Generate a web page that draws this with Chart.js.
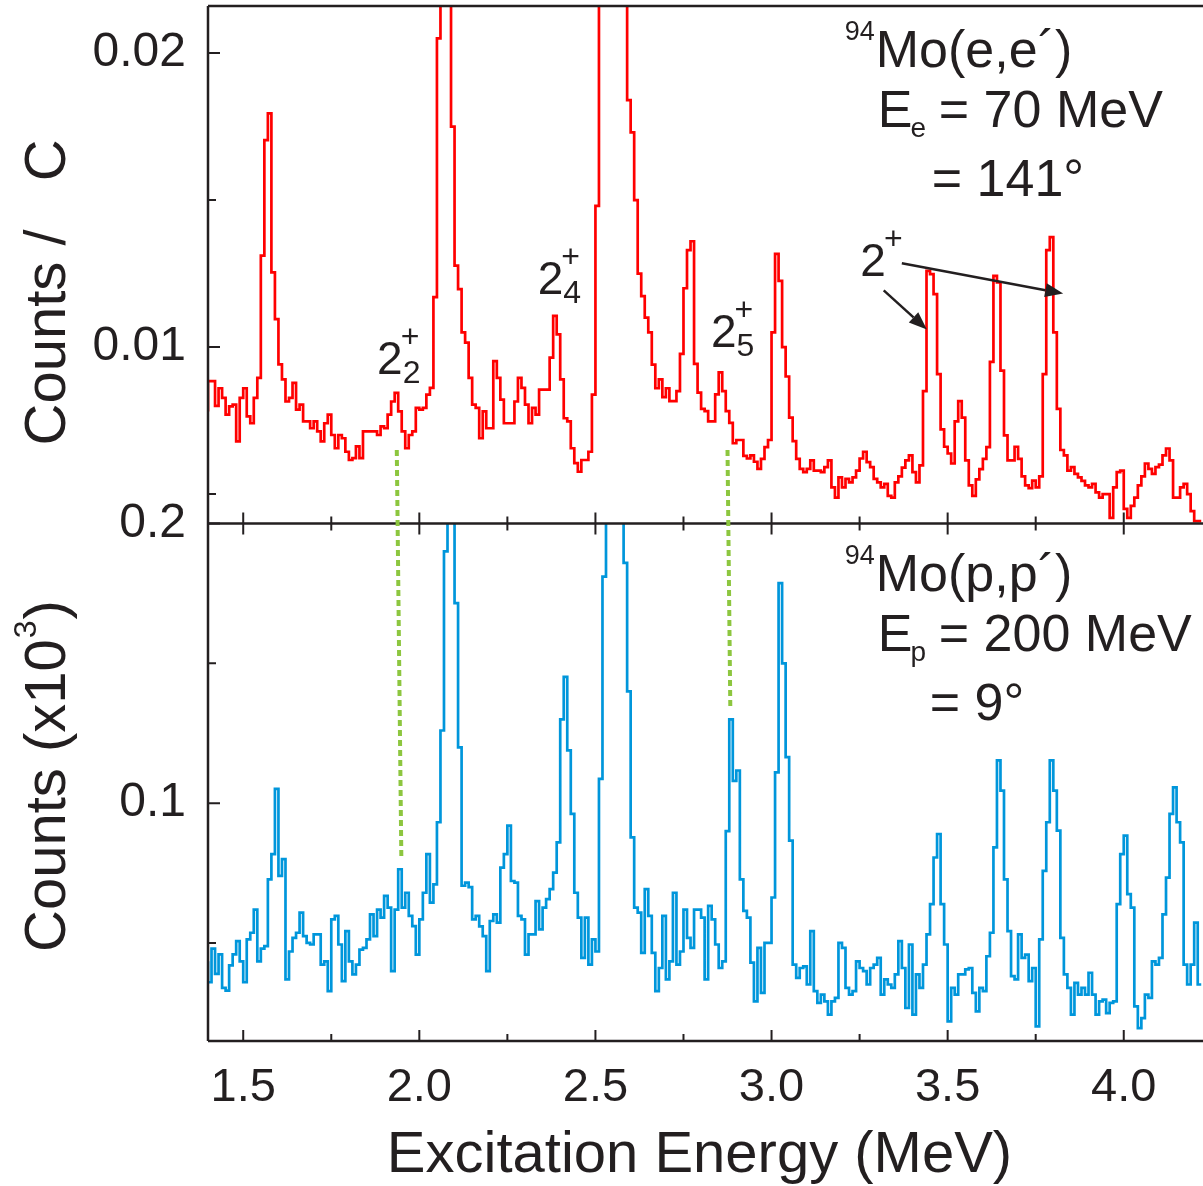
<!DOCTYPE html>
<html>
<head>
<meta charset="utf-8">
<title>94Mo (e,e') and (p,p') spectra</title>
<script src="https://cdn.jsdelivr.net/npm/chart.js@4.4.1/dist/chart.umd.min.js"></script>
<style>
  html, body { margin: 0; padding: 0; background: #fff; }
  #wrap { width: 1203px; height: 1186px; }
</style>
</head>
<body>
<div id="wrap"><canvas id="spectra" width="1203" height="1186"></canvas></div>
<script>
// energy binning shared by both spectra (MeV)
const binStart = 1.40;
const binWidth = 0.01;

// 94Mo(e,e') E0 = 70 MeV, theta = 141 deg : counts per charge, in units of 1e-3
const eeCounts = [
  7.81, 8.84, 8.84, 8.0, 8.6, 8.27, 7.7, 7.98, 8.04, 6.79,
  8.27, 8.6, 7.64, 7.41, 8.27, 8.95, 13.11, 17.04, 17.95, 12.54,
  10.95, 9.41, 8.9, 8.15, 8.27, 8.78, 7.87, 8.04, 7.47, 7.47,
  7.24, 7.47, 7.13, 6.79, 7.41, 7.7, 7.01, 6.56, 7.01, 6.9,
  6.44, 6.16, 6.22, 6.62, 6.22, 7.13, 7.13, 7.13, 7.13, 7.01,
  7.3, 7.24, 7.7, 8.15, 8.44, 7.81, 7.13, 6.56, 7.01, 7.13,
  7.93, 7.87, 7.93, 8.38, 8.61, 11.7, 20.5, 30, 40, 35,
  17.5, 12.77, 11.97, 10.5, 10.15, 8.95, 8.04, 7.93, 6.9, 7.81,
  7.24, 7.24, 9.52, 8.95, 8.21, 7.41, 7.41, 7.41, 8.15, 8.95,
  8.61, 8.04, 7.41, 7.93, 7.7, 8.55, 8.55, 8.55, 9.64, 11.06,
  10.43, 8.9, 7.58, 7.47, 6.56, 6.05, 5.76, 6.16, 6.16, 6.44,
  8.38, 14.8, 30, 40, 45, 45, 40, 35, 30, 25,
  18.4, 17.3, 15.0, 12.5, 11.73, 11.0, 10.5, 9.4, 8.6, 8.9,
  8.3, 8.6, 8.16, 8.16, 8.5, 9.77, 12.0, 13.3, 13.6, 9.43,
  8.45, 7.9, 7.82, 7.47, 7.47, 8.39, 9.14, 8.5, 7.82, 7.42,
  6.73, 6.84, 6.84, 6.3, 6.21, 6.32, 6.1, 5.86, 6.2, 6.6,
  6.84, 10.5, 13.17, 12.25, 10.0, 9.0, 7.6, 6.8, 6.2, 5.86,
  5.75, 5.86, 6.15, 5.8, 5.8, 5.75, 5.92, 6.15, 5.23, 4.88,
  5.57, 5.23, 5.52, 5.4, 5.57, 5.8, 6.21, 6.44, 6.09, 5.92,
  5.52, 5.4, 5.23, 5.35, 4.94, 4.88, 5.4, 5.6, 5.9, 6.15,
  6.32, 5.75, 5.4, 5.98, 8.5, 12.59, 12.48, 11.8, 9.08, 7.2,
  6.61, 6.38, 6.04, 7.47, 8.16, 7.6, 6.15, 5.3, 4.94, 5.5,
  5.85, 6.2, 6.6, 9.5, 12.42, 12.2, 9.2, 7.0, 6.15, 6.15,
  6.61, 6.2, 5.6, 5.3, 5.2, 5.46, 5.23, 5.6, 9.08, 13.3,
  13.74, 10.5, 7.9, 6.5, 6.32, 5.8, 5.92, 5.69, 5.57, 5.45,
  5.3, 5.23, 5.35, 5.06, 4.88, 5.0, 5.0, 4.19, 5.23, 5.75,
  5.8, 4.5, 4.19, 4.6, 4.88, 5.3, 5.6, 6.04, 5.86, 5.69,
  5.92, 6.0, 6.32, 6.55, 6.15, 4.88, 4.88, 5.23, 5.35, 5.0,
  4.42, 4.08, 4.08
];

// 94Mo(p,p') E0 = 200 MeV, theta = 9 deg : counts (x10^3), in units of 1e-3
const ppCounts = [
  43.5, 36, 48, 39, 46, 34, 33, 42, 46, 50.7,
  43.5, 36, 51.3, 53.7, 62, 43.5, 48, 48.9, 72.8, 81.8,
  105.1, 74, 80, 37, 47, 51.9, 53.7, 60.9, 52.5, 50.1,
  49.5, 53.1, 53.1, 42.3, 43.5, 32.8, 58.5, 59.7, 49.5, 36.4,
  54.3, 43.5, 38.8, 42.3, 47.7, 48.3, 51.3, 60.3, 52.5, 62,
  59.1, 66.9, 62.7, 40, 62, 76.4, 62.7, 68, 59.7, 56.1,
  45.9, 58.5, 68, 81.8, 64.5, 71, 93.2, 126, 190, 280,
  260, 171.5, 120, 70.5, 71.6, 70, 58.5, 59.7, 56, 52.5,
  40, 57.9, 60.3, 57.3, 77, 81.8, 92, 72.2, 71.6, 59.7,
  58.5, 45.9, 53.1, 53.1, 65, 54.9, 62.7, 65.7, 69.3, 75.2,
  86, 130, 145.2, 118.9, 96.2, 68, 59.1, 44.7, 59.1, 42.3,
  51.3, 47, 108.7, 181, 300, 400, 450, 420, 350, 185.9,
  140, 87.8, 62.7, 60.9, 46.5, 69.3, 59.7, 46.5, 32.8, 41.1,
  59.7, 37, 43.5, 68, 42.3, 47, 62, 51.9, 48.3, 62,
  62, 59.1, 37, 63.3, 58.5, 49.5, 41.1, 43.5, 90, 130,
  108, 111.7, 72.8, 61.5, 59.1, 43, 29.2, 48.3, 32.2, 50.1,
  50.1, 66.3, 111, 178.7, 150, 116.5, 86.6, 42.3, 37.6, 41.1,
  41.7, 35.2, 54.3, 32.8, 28.6, 31.6, 29.2, 24.4, 29.2, 30.4,
  50.1, 48.3, 34, 31.6, 32.8, 43.5, 41.1, 40, 35.2, 41.1,
  42.3, 44.7, 31.6, 37, 35.2, 34, 38.8, 50.7, 41.1, 26.8,
  49.5, 24.4, 38.8, 34, 42.3, 53.1, 63.9, 80.6, 89, 63.9,
  49.5, 22, 34, 31.6, 38.8, 38.8, 40.6, 41.1, 32.2, 25.6,
  34, 32.8, 45.3, 53.7, 84.2, 115.3, 104.5, 72.8, 54.3, 38.2,
  37, 53.1, 44.7, 45.9, 36.4, 41.1, 20.2, 51.3, 75.8, 93.2,
  115.3, 104.5, 90.2, 51.9, 38.8, 34, 24.4, 35.8, 31.6, 34,
  31.6, 39.4, 31.6, 24.4, 29.2, 29.8, 25, 28.6, 29.2, 63.9,
  81.8, 88.4, 67.5, 62.7, 27.4, 19.6, 23.2, 31.6, 30.4, 43.5,
  42.3, 44.7, 60.3, 73.4, 96.2, 105.7, 93.2, 86, 42.3, 35.2,
  42.3, 57.3, 35.2
];

// axis ranges
const energyRange = [1.4, 4.225];
const eeRange = [0.004, 0.0216];
const ppRange = [0.015, 0.2];

// 2+ states seen in both reactions: dotted guide from the (e,e') peak down to the (p,p') peak
const guideLines = [
  { eTop: 1.936, vTop: 0.0065, eBot: 1.949, vBot: 0.080 },
  { eTop: 2.875, vTop: 0.0065, eBot: 2.883, vBot: 0.1335 }
];

// state labels in the (e,e') panel, anchored at the baseline of the "2"
const stateLabels = [
  { e: 1.880, v: 0.00908, sub: '2' },
  { e: 2.336, v: 0.01181, sub: '4' },
  { e: 2.828, v: 0.0100, sub: '5' },
  { e: 3.252, v: 0.01242, sub: '' }
];
const stateArrows = [
  { from: [3.3185, 0.01193], to: [3.441, 0.0106] },
  { from: [3.370, 0.01285], to: [3.828, 0.01182] }
];

// reaction info, anchored at the left/baseline of the first line
const eeInfo = { e: 3.208, v: 0.01951, mass: '94', reaction: 'Mo(e,e\u00b4)', sub: 'e', beam: '= 70 MeV', angle: '= 141\u00b0', angleDx: 87 };
const ppInfo = { e: 3.208, v: 0.1759, mass: '94', reaction: 'Mo(p,p\u00b4)', sub: 'p', beam: '= 200 MeV', angle: '= 9\u00b0', angleDx: 85 };

const ink = '#231f20';
const family = '"Liberation Sans", Arial, Helvetica, sans-serif';
const eeColor = '#ff0000';
const ppColor = '#0096db';
const guideColor = '#8dc63f';

const energies = eeCounts.map((_, i) => +(binStart + i * binWidth).toFixed(2));
const eePoints = energies.map((e, i) => ({ x: e, y: eeCounts[i] / 1000 }));
const ppPoints = energies.map((e, i) => ({ x: e, y: ppCounts[i] / 1000 }));

Chart.defaults.font.family = family;
Chart.defaults.color = ink;

const onStep = (v, step) => Math.abs(v / step - Math.round(v / step)) < 1e-6;

// closed frame with inward tick marks, both panels
const framePlugin = {
  id: 'frame',
  afterDatasetsDraw(chart) {
    const { ctx, chartArea: a, scales } = chart;
    const xs = scales.x, yT = scales.yTop, yB = scales.yBot;
    const mid = yT.bottom;
    ctx.save();
    ctx.strokeStyle = ink;
    ctx.lineWidth = 2.5;
    ctx.beginPath();
    ctx.moveTo(a.left, a.top); ctx.lineTo(a.right, a.top);
    ctx.moveTo(a.left, a.top); ctx.lineTo(a.left, a.bottom);
    ctx.moveTo(a.left, mid); ctx.lineTo(a.right, mid);
    ctx.moveTo(a.left, a.bottom); ctx.lineTo(a.right, a.bottom);
    ctx.stroke();

    ctx.lineWidth = 2;
    ctx.beginPath();
    xs.ticks.forEach(t => {
      const px = xs.getPixelForValue(t.value);
      const len = t.label ? 11 : 7;
      ctx.moveTo(px, a.bottom); ctx.lineTo(px, a.bottom - len);
      ctx.moveTo(px, mid - len); ctx.lineTo(px, mid + len);
    });
    [yT, yB].forEach(s => {
      s.ticks.forEach(t => {
        const py = s.getPixelForValue(t.value);
        const len = t.label ? 12 : 8;
        ctx.moveTo(a.left, py); ctx.lineTo(a.left + len, py);
      });
    });
    ctx.stroke();
    ctx.restore();
  }
};

function drawArrow(ctx, x0, y0, x1, y1) {
  const ang = Math.atan2(y1 - y0, x1 - x0);
  const head = 18, half = 7;
  const bx = x1 - head * Math.cos(ang), by = y1 - head * Math.sin(ang);
  ctx.beginPath();
  ctx.moveTo(x0, y0); ctx.lineTo(bx, by);
  ctx.stroke();
  ctx.beginPath();
  ctx.moveTo(x1, y1);
  ctx.lineTo(bx + half * Math.sin(ang), by - half * Math.cos(ang));
  ctx.lineTo(bx - half * Math.sin(ang), by + half * Math.cos(ang));
  ctx.closePath();
  ctx.fill();
}

function drawInfo(ctx, info, xs, ys) {
  const ax = xs.getPixelForValue(info.e), ay = ys.getPixelForValue(info.v);
  ctx.font = '27px ' + family;
  ctx.fillText(info.mass, ax, ay - 27);
  ctx.font = '52px ' + family;
  ctx.fillText(info.reaction, ax + 31, ay);
  ctx.fillText('E', ax + 33, ay + 60);
  const wE = ctx.measureText('E').width;
  ctx.fillText(info.beam, ax + 94, ay + 60);
  ctx.fillText(info.angle, ax + info.angleDx, ay + 129);
  ctx.font = '28px ' + family;
  ctx.fillText(info.sub, ax + 33 + wE - 2, ay + 70);
}

// labels, arrows, guide lines and axis titles
const notesPlugin = {
  id: 'notes',
  afterDraw(chart) {
    const { ctx, chartArea: a, scales } = chart;
    const xs = scales.x, yT = scales.yTop, yB = scales.yBot;
    ctx.save();

    ctx.strokeStyle = guideColor;
    ctx.lineWidth = 4;
    ctx.setLineDash([6, 4]);
    guideLines.forEach(g => {
      ctx.beginPath();
      ctx.moveTo(xs.getPixelForValue(g.eTop), yT.getPixelForValue(g.vTop));
      ctx.lineTo(xs.getPixelForValue(g.eBot), yB.getPixelForValue(g.vBot));
      ctx.stroke();
    });
    ctx.setLineDash([]);

    ctx.fillStyle = ink;
    ctx.strokeStyle = ink;
    ctx.textBaseline = 'alphabetic';
    ctx.textAlign = 'left';
    stateLabels.forEach(s => {
      const px = xs.getPixelForValue(s.e), py = yT.getPixelForValue(s.v);
      ctx.font = '46px ' + family;
      ctx.fillText('2', px, py);
      const w = ctx.measureText('2').width;
      ctx.font = '32px ' + family;
      ctx.fillText('+', px + w - 2, py - 27);
      if (s.sub) ctx.fillText(s.sub, px + w, py + 9);
    });

    ctx.lineWidth = 2.5;
    stateArrows.forEach(r => {
      drawArrow(ctx,
        xs.getPixelForValue(r.from[0]), yT.getPixelForValue(r.from[1]),
        xs.getPixelForValue(r.to[0]), yT.getPixelForValue(r.to[1]));
    });

    drawInfo(ctx, eeInfo, xs, yT);
    drawInfo(ctx, ppInfo, xs, yB);

    // y titles, one per panel
    ctx.font = '58px ' + family;
    ctx.save();
    ctx.translate(65, yT.bottom - 78);
    ctx.rotate(-Math.PI / 2);
    ctx.fillText('Counts /   C', 0, 0);
    ctx.restore();

    ctx.save();
    ctx.translate(65, yB.bottom - 89);
    ctx.rotate(-Math.PI / 2);
    ctx.font = '58px ' + family;
    ctx.fillText('Counts (x10', 0, 0);
    let w = ctx.measureText('Counts (x10').width;
    ctx.font = '32px ' + family;
    ctx.fillText('3', w + 1, -29);
    w += ctx.measureText('3').width + 2;
    ctx.font = '58px ' + family;
    ctx.fillText(')', w, 0);
    ctx.restore();

    ctx.font = '58px ' + family;
    ctx.textAlign = 'center';
    ctx.fillText('Excitation Energy (MeV)', (a.left + a.right) / 2 - 6, chart.height - 14);
    ctx.restore();
  }
};

// keep the axis boxes at fixed size and stop them padding the plot area
const fixY = s => { s.width = 208; s.paddingTop = 0; s.paddingBottom = 0; };
const fixX = s => { s.height = 145; s.paddingLeft = 0; s.paddingRight = 0; };

const ctx = document.getElementById('spectra').getContext('2d');
const chart = new Chart(ctx, {
  type: 'line',
  data: {
    datasets: [
      {
        label: '94Mo(e,e\')',
        data: eePoints,
        yAxisID: 'yTop',
        borderColor: eeColor,
        borderWidth: 2.7,
        stepped: 'after',
        pointRadius: 0,
        fill: false
      },
      {
        label: '94Mo(p,p\')',
        data: ppPoints,
        yAxisID: 'yBot',
        borderColor: ppColor,
        borderWidth: 2.7,
        stepped: 'after',
        pointRadius: 0,
        fill: false
      }
    ]
  },
  options: {
    responsive: false,
    devicePixelRatio: 1,
    animation: false,
    events: [],
    layout: { padding: { top: 6, right: 0, bottom: 0, left: 0 } },
    plugins: { legend: { display: false }, tooltip: { enabled: false } },
    scales: {
      x: {
        type: 'linear',
        position: 'bottom',
        min: energyRange[0],
        max: energyRange[1],
        grid: { display: false, drawTicks: false },
        border: { display: false },
        ticks: {
          stepSize: 0.25,
          includeBounds: false,
          autoSkip: false,
          maxRotation: 0,
          padding: 19,
          font: { size: 47 },
          callback: v => onStep(v, 0.5) ? v.toFixed(1) : ''
        },
        afterFit: fixX
      },
      yTop: {
        type: 'linear',
        position: 'left',
        stack: 'panels',
        stackWeight: 1,
        weight: 2,
        min: eeRange[0],
        max: eeRange[1],
        grid: { display: false, drawTicks: false },
        border: { display: false },
        ticks: {
          stepSize: 0.005,
          includeBounds: false,
          padding: 22,
          font: { size: 48 },
          callback: v => onStep(v, 0.01) ? v.toFixed(2) : ''
        },
        afterFit: fixY
      },
      yBot: {
        type: 'linear',
        position: 'left',
        stack: 'panels',
        stackWeight: 1,
        weight: 1,
        min: ppRange[0],
        max: ppRange[1],
        grid: { display: false, drawTicks: false },
        border: { display: false },
        ticks: {
          stepSize: 0.05,
          includeBounds: false,
          padding: 22,
          font: { size: 48 },
          callback: v => onStep(v, 0.1) ? v.toFixed(1) : ''
        },
        afterFit: fixY
      }
    }
  },
  plugins: [framePlugin, notesPlugin]
});
</script>
</body>
</html>
